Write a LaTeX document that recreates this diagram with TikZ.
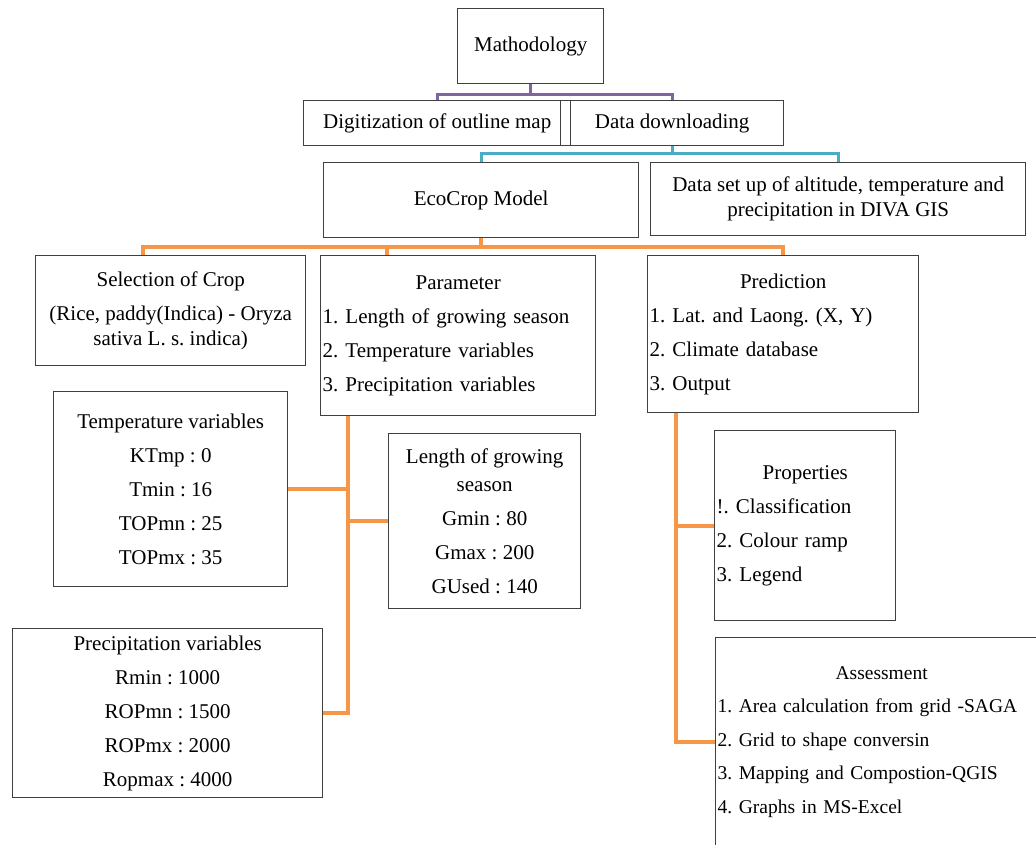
\documentclass[tikz,border=0pt]{standalone}
\usepackage{fontspec}
\setmainfont{Liberation Serif}
\usetikzlibrary{calc}
\definecolor{purp}{RGB}{128,100,162}
\definecolor{aqua}{RGB}{75,172,198}
\definecolor{orng}{RGB}{247,150,70}
\newcommand{\boxtitle}[1]{\makebox[\linewidth]{#1}}
\frenchspacing
\tikzset{
  box/.style={draw=black!75, line width=1.4pt, anchor=north west, inner xsep=2pt, inner ysep=2pt, font=\fontsize{21}{34}\selectfont, align=center},
  listbox/.style={box, align=left},
  purpline/.style={purp, line width=3pt},
  aqualine/.style={aqua, line width=3pt},
  orngline/.style={orng, line width=4pt}
}

\begin{document}
\begin{tikzpicture}[x=1pt,y=-1pt]
        \useasboundingbox (0,0) rectangle (1036,845);
        \clip (0,0) rectangle (1036,845);
        \node[box, minimum width=146pt, minimum height=75pt] (meth) at (457,8) {Mathodology};
        \node[box, minimum width=267pt, minimum height=45pt] (digi) at (303,100) {Digitization of outline map};
        \node[box, minimum width=223pt, minimum height=45pt] (down) at (560,100) {Data downloading};
        \node[box, minimum width=315pt, minimum height=75pt] (eco) at (323,162) {EcoCrop Model};
        \node[box, minimum width=375pt, minimum height=73pt] (dset) at (650,162) {Data set up of altitude, temperature and\\[-9pt]precipitation in DIVA GIS};
        \node[box, minimum width=270pt, minimum height=110pt] (sel) at (35,255) {Selection of Crop\\(Rice, paddy(Indica) - Oryza\\[-9pt]sativa L. s. indica)};
        \node[listbox, text width=271pt, minimum height=160pt] (param) at (320,255) {\boxtitle{Parameter}\\1. Length of growing season\\2. Temperature variables\\3. Precipitation  variables};
        \node[listbox, text width=267pt, minimum height=157pt] (pred) at (647,255) {\boxtitle{Prediction}\\1. Lat. and Laong. (X, Y)\\2. Climate database\\3. Output};
        \node[box, minimum width=234pt, minimum height=195pt] (temp) at (53,391) {Temperature variables\\KTmp : 0\\Tmin : 16\\TOPmn : 25\\TOPmx : 35};
        \node[box, minimum width=192pt, minimum height=175pt] (len) at (388,433) {Length of growing\\[-6pt]season\\Gmin : 80\\Gmax : 200\\GUsed : 140};
        \node[box, minimum width=310pt, minimum height=169pt] (precip) at (12,628) {Precipitation variables\\Rmin : 1000\\ROPmn : 1500\\ROPmx : 2000\\Ropmax : 4000};
        \node[listbox, text width=177pt, minimum height=190pt] (prop) at (714,430) {\boxtitle{Properties}\\!. Classification\\2. Colour ramp\\3. Legend};
        \node[listbox, font=\fontsize{19.5}{33.5}\selectfont, text width=328pt, minimum height=238pt] (assess) at (715,637) {\boxtitle{Assessment}\\1. Area calculation from grid  -SAGA\\2. Grid to shape conversin\\3. Mapping and Compostion-QGIS\\4. Graphs in MS-Excel\\ \mbox{}};
        \draw[purpline] (meth.south) -- ++(0,10) coordinate (pj);
        \draw[purpline] (digi.north) |- (pj) -| (down.north);
        \draw[aqualine] (down.south) -- ++(0,7) coordinate (aj);
        \draw[aqualine] (eco.north) |- (aj) -| (dset.north);
        \draw[orngline] (eco.south) -- ++(0,9) coordinate (oj);
        \draw[orngline] ($(sel.north west)+(108,0)$) |- (oj) -| (pred.north);
        \draw[orngline] (oj) -| ($(param.north west)+(67,0)$);
        \draw[orngline] ($(param.south west)+(28,0)$) coordinate (pt) -- (pt |- precip.east) -- (precip.east);
        \draw[orngline] (pt |- temp.east) -- (temp.east);
        \draw[orngline] (pt |- len.west) -- (len.west);
        \coordinate (abranch) at ($(assess.north west)+(0,105)$);
        \draw[orngline] ($(pred.south west)+(29,0)$) coordinate (qt) -- (qt |- abranch) -- (abranch);
        \draw[orngline] (qt |- prop.west) -- (prop.west);
    \end{tikzpicture}
\end{document}
